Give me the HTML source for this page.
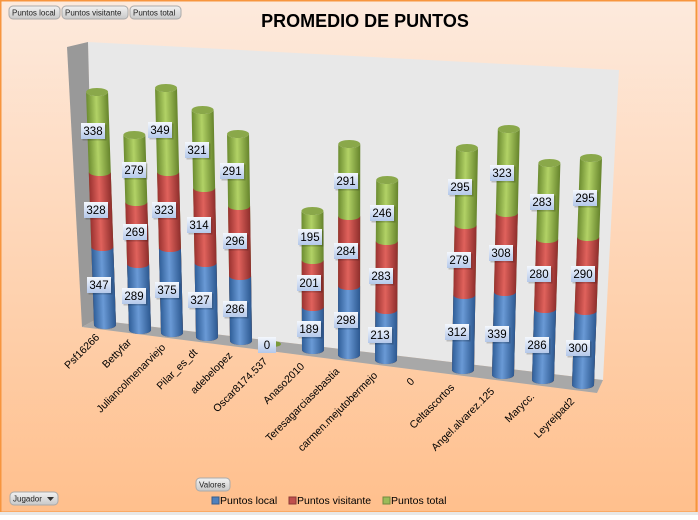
<!DOCTYPE html>
<html><head><meta charset="utf-8"><style>
html,body{margin:0;padding:0;}
body{width:698px;height:515px;overflow:hidden;font-family:"Liberation Sans",sans-serif;}
</style></head><body>
<svg width="698" height="515" viewBox="0 0 698 515" xmlns="http://www.w3.org/2000/svg" font-family="Liberation Sans, sans-serif">
<defs>
<linearGradient id="bg" x1="0" y1="0" x2="0" y2="1"><stop offset="0" stop-color="#fdeadd"/><stop offset="1" stop-color="#ffbf8c"/></linearGradient>
<linearGradient id="gb" x1="0" x2="1"><stop offset="0" stop-color="#2f5e98"/><stop offset="0.45" stop-color="#6a9ad6"/><stop offset="1" stop-color="#2c5890"/></linearGradient>
<linearGradient id="gr" x1="0" x2="1"><stop offset="0" stop-color="#9a3230"/><stop offset="0.45" stop-color="#e0625c"/><stop offset="1" stop-color="#8e2e2c"/></linearGradient>
<linearGradient id="gg" x1="0" x2="1"><stop offset="0" stop-color="#6c8c30"/><stop offset="0.45" stop-color="#b2d266"/><stop offset="1" stop-color="#66842c"/></linearGradient>
<linearGradient id="lb" x1="0" y1="0" x2="0" y2="1"><stop offset="0" stop-color="#f4f7fd"/><stop offset="1" stop-color="#b4c8ea"/></linearGradient>
<linearGradient id="btn" x1="0" y1="0" x2="0" y2="1"><stop offset="0" stop-color="#f2f2f2"/><stop offset="1" stop-color="#c8c8c8"/></linearGradient>
</defs>
<rect x="0" y="0" width="698" height="515" fill="url(#bg)"/>
<rect x="0.5" y="0.5" width="696" height="512" fill="none" stroke="#f7953e" stroke-width="2"/>
<rect x="0" y="512" width="698" height="3" fill="#e8e8e8"/>
<polygon points="88,42 619,70 603,380 95,320" fill="#e8e8e8"/>
<polygon points="67,47 88,42 95,320 82,327" fill="#999"/>
<polygon points="95,320 603,380 597,393 82,327" fill="#a8a8a8"/>
<g id="bars"></g>
<text x="365" y="27" text-anchor="middle" font-size="18" font-weight="bold" fill="#000">PROMEDIO DE PUNTOS</text>
<g font-size="8" fill="#222">
<rect x="9" y="6" width="51" height="13" rx="4" fill="url(#btn)" stroke="#aaa"/><text x="12" y="15.5">Puntos local</text>
<rect x="62" y="6" width="66" height="13" rx="4" fill="url(#btn)" stroke="#aaa"/><text x="65" y="15.5">Puntos visitante</text>
<rect x="130" y="6" width="51" height="13" rx="4" fill="url(#btn)" stroke="#aaa"/><text x="133" y="15.5">Puntos total</text>
<rect x="196" y="478" width="34" height="13" rx="4" fill="url(#btn)" stroke="#aaa"/><text x="199" y="487.5">Valores</text>
<rect x="10" y="492" width="48" height="13" rx="4" fill="url(#btn)" stroke="#aaa"/><text x="13" y="501.5">Jugador</text>
<polygon points="47,497 54,497 50.5,501" fill="#333"/>
</g>
<g font-size="10.5" fill="#000">
<rect x="212" y="497" width="7" height="7" fill="#4f81bd" stroke="#385d8a"/><text x="220" y="504">Puntos local</text>
<rect x="289" y="497" width="7" height="7" fill="#c0504d" stroke="#8c3836"/><text x="297" y="504">Puntos visitante</text>
<rect x="383" y="497" width="7" height="7" fill="#9bbb59" stroke="#71893f"/><text x="391" y="504">Puntos total</text>
</g>
<g id="cats" font-size="10.5" fill="#000"></g>
</svg>
<script>
var bars=[
[105,325,247,172,92,[347,328,338],[[99,285],[96,210],[93,131]]],
[140,330,264,202,135,[289,269,279],[[134,296],[135,232],[134,170]]],
[172,333,248,172,88,[375,323,349],[[167,290],[164,210],[160,130]]],
[207,337,263,188,110,[327,314,321],[[200,300],[199,225],[197,150]]],
[241,341,276,206,134,[286,296,291],[[235,309],[235,241],[232,171]]],
[313,350,307,260,211,[189,201,195],[[309,329],[309,283],[310,237]]],
[349,355,286,216,144,[298,284,291],[[346,320],[346,251],[346,181]]],
[386,360,310,241,180,[213,283,246],[[380,335],[381,276],[382,213]]],
[463,370,295,225,148,[312,279,295],[[457,332],[459,260],[460,187]]],
[503,375,292,213,129,[339,308,323],[[497,334],[501,253],[502,173]]],
[543,380,309,239,163,[286,280,283],[[537,345],[539,274],[542,202]]],
[583,385,311,237,158,[300,290,295],[[578,348],[583,274],[585,198]]]
];
var g=document.getElementById('bars'),h='';
var w=22,r=w/2,ry=4;
function seg(top,fill){return '<path d="M'+(-r)+','+(-top)+' A'+r+','+ry+' 0 0 0 '+r+','+(-top)+' L'+r+',0 A'+r+','+ry+' 0 0 1 '+(-r)+',0 Z" fill="'+fill+'"/>';}
var labels='';
bars.forEach(function(b){
 var cx=b[0],by=b[1],t=b[4];
 var ang=Math.atan(-(cx-340)*0.000145)*180/Math.PI;
 h+='<g transform="translate('+cx+','+by+') skewX('+ang+')">';
 h+=seg(by-t,'url(#gg)')+seg(by-b[3],'url(#gr)')+seg(by-b[2],'url(#gb)');
 h+='<ellipse cx="0" cy="'+(-(by-t))+'" rx="'+r+'" ry="'+ry+'" fill="#8aa84a"/></g>';
 for(var i=0;i<3;i++){var p=b[6][i];
  labels+='<rect x="'+(p[0]-12)+'" y="'+(p[1]-8)+'" width="24" height="16" fill="#00000030" transform="translate(1.5,1.5)"/><rect x="'+(p[0]-12)+'" y="'+(p[1]-8)+'" width="24" height="16" fill="url(#lb)"/><text x="'+p[0]+'" y="'+(p[1]+4)+'" text-anchor="middle" font-size="11.5" fill="#000">'+b[5][i]+'</text>';}
});
h+='<ellipse cx="273" cy="344" rx="8" ry="3" fill="#7a9a3a"/>';
labels+='<rect x="258" y="337" width="18" height="16" fill="url(#lb)"/><text x="267" y="349" text-anchor="middle" font-size="11.5">0</text>';
g.innerHTML=h+labels;
var cats=[["Psf16266",100,338],["Bettyfar",132,343],["Juliancolmenarviejo",166,348],["Pilar_es_dt",198,353],["adebelopez",233,356],["Oscar8174.537",268,362],["Anaso2010",305,367],["Teresagarciasebastia",340,372],["carmen.mejutobermejo",378,376],["0",415,382],["Celtascortos",455,388],["Angel.alvarez.125",495,392],["Marycc.",535,397],["Leyreipad2",575,402]];
var c='';cats.forEach(function(k){c+='<text text-anchor="end" transform="translate('+k[1]+','+k[2]+') rotate(-45)">'+k[0]+'</text>';});
document.getElementById('cats').innerHTML=c;
</script>
</body></html>
